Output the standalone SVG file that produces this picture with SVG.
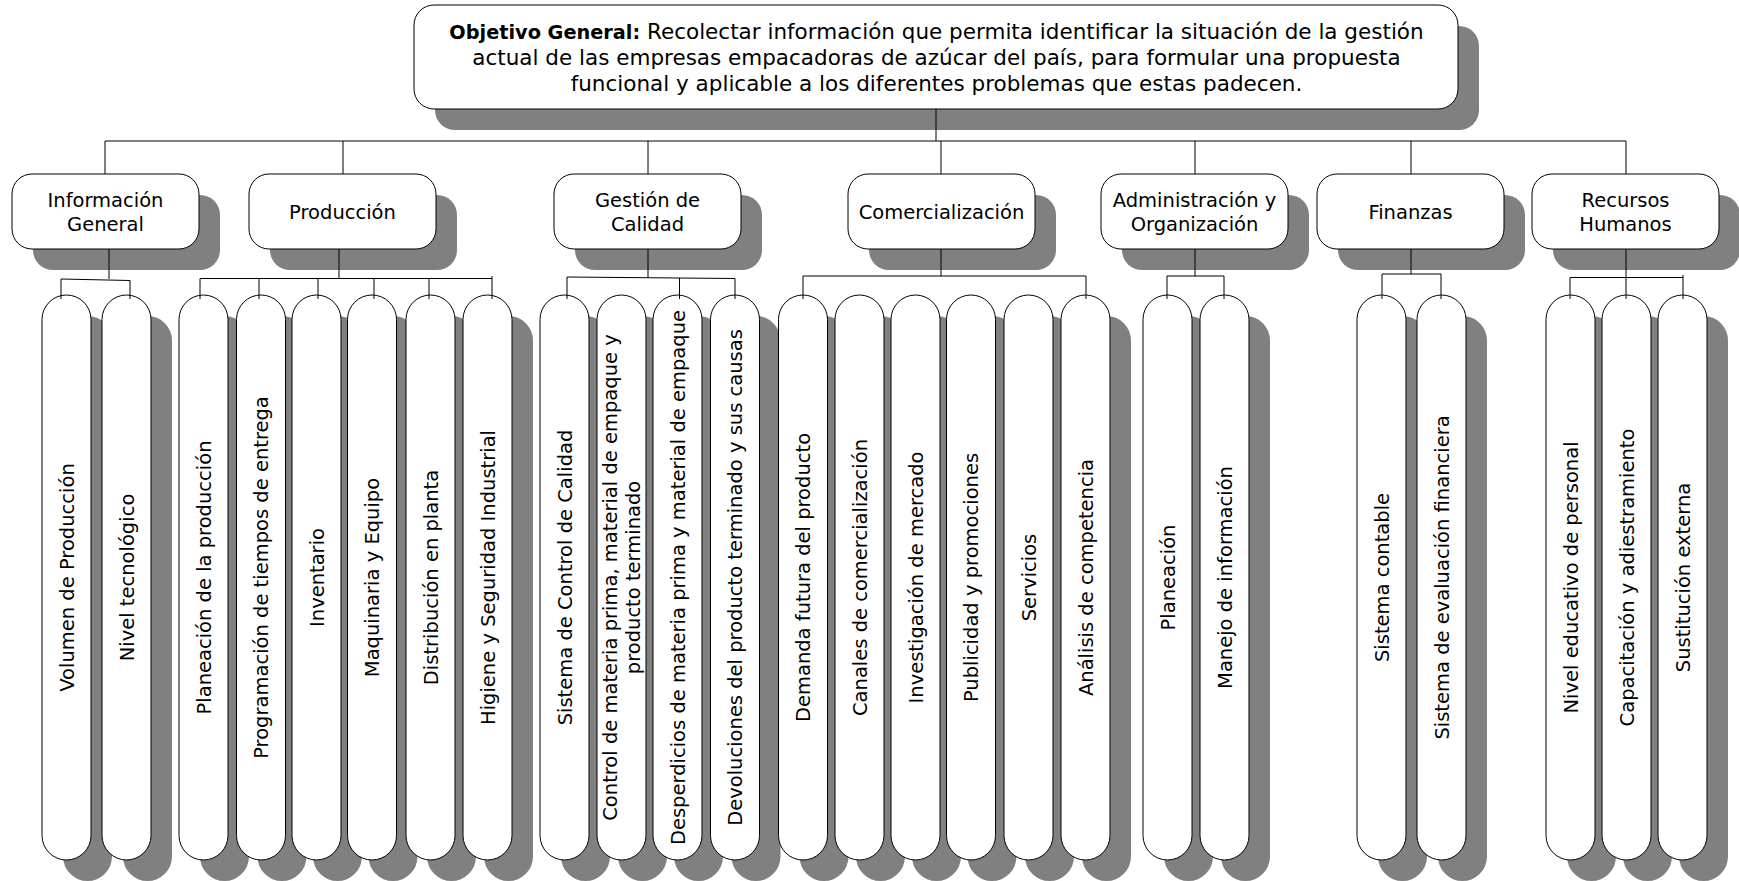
<svg xmlns="http://www.w3.org/2000/svg" width="1739" height="881" viewBox="0 0 1739 881">
  <style>
    .shadow { fill: #808080; }
    .box { fill: #ffffff; stroke: #000000; stroke-width: 1; }
    .lbl { font-family: "DejaVu Sans", "Liberation Sans", sans-serif; font-size: 19.5px; fill: #000000; }
    .big { font-size: 21.5px; }
    .mid { text-anchor: middle; }
    #connectors line { stroke: #000000; stroke-width: 1; fill: none; }
  </style>
  <defs>
    <!-- vertical pill used for every sub-topic -->
    <rect id="pill" x="0" y="0" width="49" height="565" rx="24.5" ry="24.5"/>
  </defs>
  <rect width="1739" height="881" fill="#ffffff"/>

  <!-- root objective -->
  <g id="objetivo">
    <rect class="shadow" x="435" y="26" width="1044" height="104" rx="20"/>
    <rect class="box" x="414" y="5" width="1044" height="104" rx="20"/>
    <text class="lbl big mid" x="936.5" y="38.5"><tspan font-weight="bold" font-size="19.3">Objetivo General:</tspan> Recolectar información que permita identificar la situación de la gestión</text>
    <text class="lbl big mid" x="936.5" y="64.5">actual de las empresas empacadoras de azúcar del país, para formular una propuesta</text>
    <text class="lbl big mid" x="936.5" y="90.5">funcional y aplicable a los diferentes problemas que estas padecen.</text>
  </g>

  <!-- category boxes -->
  <g id="cat-informacion">
    <rect class="shadow" x="33" y="195" width="187" height="75" rx="20"/>
    <rect class="box" x="12" y="174" width="187" height="75" rx="20"/>
    <text class="lbl mid" x="105.5" y="207">Información</text>
    <text class="lbl mid" x="105.5" y="230.5">General</text>
  </g>
  <g id="cat-produccion">
    <rect class="shadow" x="270" y="195" width="187" height="75" rx="20"/>
    <rect class="box" x="249" y="174" width="187" height="75" rx="20"/>
    <text class="lbl mid" x="342.5" y="218.5">Producción</text>
  </g>
  <g id="cat-calidad">
    <rect class="shadow" x="575" y="195" width="187" height="75" rx="20"/>
    <rect class="box" x="554" y="174" width="187" height="75" rx="20"/>
    <text class="lbl mid" x="647.5" y="207">Gestión de</text>
    <text class="lbl mid" x="647.5" y="230.5">Calidad</text>
  </g>
  <g id="cat-comercializacion">
    <rect class="shadow" x="869" y="195" width="187" height="75" rx="20"/>
    <rect class="box" x="848" y="174" width="187" height="75" rx="20"/>
    <text class="lbl mid" x="941.5" y="218.5">Comercialización</text>
  </g>
  <g id="cat-administracion">
    <rect class="shadow" x="1122" y="195" width="187" height="75" rx="20"/>
    <rect class="box" x="1101" y="174" width="187" height="75" rx="20"/>
    <text class="lbl mid" x="1194.5" y="207">Administración y</text>
    <text class="lbl mid" x="1194.5" y="230.5">Organización</text>
  </g>
  <g id="cat-finanzas">
    <rect class="shadow" x="1338" y="195" width="187" height="75" rx="20"/>
    <rect class="box" x="1317" y="174" width="187" height="75" rx="20"/>
    <text class="lbl mid" x="1410.5" y="218.5">Finanzas</text>
  </g>
  <g id="cat-rrhh">
    <rect class="shadow" x="1553" y="195" width="187" height="75" rx="20"/>
    <rect class="box" x="1532" y="174" width="187" height="75" rx="20"/>
    <text class="lbl mid" x="1625.5" y="207">Recursos</text>
    <text class="lbl mid" x="1625.5" y="230.5">Humanos</text>
  </g>

  <!-- sub-topics: pill + shadow, label rotated to read bottom-up -->
  <g id="sub-volumen"><use href="#pill" class="shadow" x="63" y="316"/><use href="#pill" class="box" x="42" y="295"/><text class="lbl mid" transform="translate(66.5,577.5) rotate(-90)" y="7">Volumen de Producción</text></g>
  <g id="sub-nivel-tec"><use href="#pill" class="shadow" x="123" y="316"/><use href="#pill" class="box" x="102" y="295"/><text class="lbl mid" transform="translate(126.5,577.5) rotate(-90)" y="7">Nivel tecnológico</text></g>

  <g id="sub-planeacion-prod"><use href="#pill" class="shadow" x="200" y="316"/><use href="#pill" class="box" x="179" y="295"/><text class="lbl mid" transform="translate(203.5,577.5) rotate(-90)" y="7">Planeación de la producción</text></g>
  <g id="sub-programacion"><use href="#pill" class="shadow" x="257.5" y="316"/><use href="#pill" class="box" x="236.5" y="295"/><text class="lbl mid" transform="translate(261,577.5) rotate(-90)" y="7">Programación de tiempos de entrega</text></g>
  <g id="sub-inventario"><use href="#pill" class="shadow" x="313" y="316"/><use href="#pill" class="box" x="292" y="295"/><text class="lbl mid" transform="translate(316.5,577.5) rotate(-90)" y="7">Inventario</text></g>
  <g id="sub-maquinaria"><use href="#pill" class="shadow" x="368.5" y="316"/><use href="#pill" class="box" x="347.5" y="295"/><text class="lbl mid" transform="translate(372,577.5) rotate(-90)" y="7">Maquinaria y Equipo</text></g>
  <g id="sub-distribucion"><use href="#pill" class="shadow" x="427" y="316"/><use href="#pill" class="box" x="406" y="295"/><text class="lbl mid" transform="translate(430.5,577.5) rotate(-90)" y="7">Distribución en planta</text></g>
  <g id="sub-higiene"><use href="#pill" class="shadow" x="484" y="316"/><use href="#pill" class="box" x="463" y="295"/><text class="lbl mid" transform="translate(487.5,577.5) rotate(-90)" y="7">Higiene y Seguridad Industrial</text></g>

  <g id="sub-sistema-calidad"><use href="#pill" class="shadow" x="561" y="316"/><use href="#pill" class="box" x="540" y="295"/><text class="lbl mid" transform="translate(564.5,577.5) rotate(-90)" y="7">Sistema de Control de Calidad</text></g>
  <g id="sub-control-materia"><use href="#pill" class="shadow" x="618" y="316"/><use href="#pill" class="box" x="597" y="295"/><text class="lbl mid" transform="translate(621.5,577.5) rotate(-90)"><tspan x="0" y="-4.7">Control de materia prima, material de empaque y</tspan><tspan x="0" y="18.3">producto terminado</tspan></text></g>
  <g id="sub-desperdicios"><use href="#pill" class="shadow" x="674" y="316"/><use href="#pill" class="box" x="653" y="295"/><text class="lbl mid" transform="translate(677.5,577.5) rotate(-90)" y="7">Desperdicios de materia prima y material de empaque</text></g>
  <g id="sub-devoluciones"><use href="#pill" class="shadow" x="731.5" y="316"/><use href="#pill" class="box" x="710.5" y="295"/><text class="lbl mid" transform="translate(735,577.5) rotate(-90)" y="7">Devoluciones del producto terminado y sus causas</text></g>

  <g id="sub-demanda"><use href="#pill" class="shadow" x="799.5" y="316"/><use href="#pill" class="box" x="778.5" y="295"/><text class="lbl mid" transform="translate(803,577.5) rotate(-90)" y="7">Demanda futura del producto</text></g>
  <g id="sub-canales"><use href="#pill" class="shadow" x="856" y="316"/><use href="#pill" class="box" x="835" y="295"/><text class="lbl mid" transform="translate(859.5,577.5) rotate(-90)" y="7">Canales de comercialización</text></g>
  <g id="sub-investigacion"><use href="#pill" class="shadow" x="912" y="316"/><use href="#pill" class="box" x="891" y="295"/><text class="lbl mid" transform="translate(915.5,577.5) rotate(-90)" y="7">Investigación de mercado</text></g>
  <g id="sub-publicidad"><use href="#pill" class="shadow" x="967.5" y="316"/><use href="#pill" class="box" x="946.5" y="295"/><text class="lbl mid" transform="translate(971,577.5) rotate(-90)" y="7">Publicidad y promociones</text></g>
  <g id="sub-servicios"><use href="#pill" class="shadow" x="1025" y="316"/><use href="#pill" class="box" x="1004" y="295"/><text class="lbl mid" transform="translate(1028.5,577.5) rotate(-90)" y="7">Servicios</text></g>
  <g id="sub-competencia"><use href="#pill" class="shadow" x="1082" y="316"/><use href="#pill" class="box" x="1061" y="295"/><text class="lbl mid" transform="translate(1085.5,577.5) rotate(-90)" y="7">Análisis de competencia</text></g>

  <g id="sub-planeacion"><use href="#pill" class="shadow" x="1164" y="316"/><use href="#pill" class="box" x="1143" y="295"/><text class="lbl mid" transform="translate(1167.5,577.5) rotate(-90)" y="7">Planeación</text></g>
  <g id="sub-manejo-info"><use href="#pill" class="shadow" x="1221" y="316"/><use href="#pill" class="box" x="1200" y="295"/><text class="lbl mid" transform="translate(1224.5,577.5) rotate(-90)" y="7">Manejo de información</text></g>

  <g id="sub-contable"><use href="#pill" class="shadow" x="1378" y="316"/><use href="#pill" class="box" x="1357" y="295"/><text class="lbl mid" transform="translate(1381.5,577.5) rotate(-90)" y="7">Sistema contable</text></g>
  <g id="sub-evaluacion-fin"><use href="#pill" class="shadow" x="1438" y="316"/><use href="#pill" class="box" x="1417" y="295"/><text class="lbl mid" transform="translate(1441.5,577.5) rotate(-90)" y="7">Sistema de evaluación financiera</text></g>

  <g id="sub-nivel-educativo"><use href="#pill" class="shadow" x="1567" y="316"/><use href="#pill" class="box" x="1546" y="295"/><text class="lbl mid" transform="translate(1570.5,577.5) rotate(-90)" y="7">Nivel educativo de personal</text></g>
  <g id="sub-capacitacion"><use href="#pill" class="shadow" x="1623" y="316"/><use href="#pill" class="box" x="1602" y="295"/><text class="lbl mid" transform="translate(1626.5,577.5) rotate(-90)" y="7">Capacitación y adiestramiento</text></g>
  <g id="sub-sustitucion"><use href="#pill" class="shadow" x="1679" y="316"/><use href="#pill" class="box" x="1658" y="295"/><text class="lbl mid" transform="translate(1682.5,577.5) rotate(-90)" y="7">Sustitución externa</text></g>

  <!-- tree connectors -->
  <g id="connectors">
    <line x1="936" y1="109" x2="936" y2="141"/>
    <line x1="105" y1="141" x2="1626" y2="141"/>
    <line x1="105" y1="141" x2="105" y2="174"/>
    <line x1="343" y1="141" x2="343" y2="174"/>
    <line x1="648" y1="141" x2="648" y2="174"/>
    <line x1="941" y1="141" x2="941" y2="174"/>
    <line x1="1195" y1="141" x2="1195" y2="174"/>
    <line x1="1411" y1="141" x2="1411" y2="174"/>
    <line x1="1626" y1="141" x2="1626" y2="174"/>

    <line x1="109" y1="249" x2="109" y2="279"/>
    <line x1="61" y1="279" x2="130" y2="280.5"/>
    <line x1="61" y1="279" x2="61" y2="299"/>
    <line x1="130" y1="280.5" x2="130" y2="299"/>

    <line x1="339" y1="249" x2="339" y2="278.5"/>
    <line x1="200" y1="278.5" x2="492" y2="278.5"/>
    <line x1="200" y1="278.5" x2="200" y2="299"/>
    <line x1="259" y1="278.5" x2="259" y2="299"/>
    <line x1="318" y1="278.5" x2="318" y2="299"/>
    <line x1="374" y1="278.5" x2="374" y2="299"/>
    <line x1="429" y1="278.5" x2="429" y2="299"/>
    <line x1="492" y1="276" x2="492" y2="299"/>

    <line x1="648" y1="249" x2="648" y2="277.5"/>
    <line x1="567" y1="277" x2="735" y2="278.5"/>
    <line x1="567" y1="277" x2="567" y2="299"/>
    <line x1="679.5" y1="278" x2="679.5" y2="299"/>
    <line x1="735" y1="278.5" x2="735" y2="299"/>

    <line x1="941" y1="249" x2="941" y2="276"/>
    <line x1="803" y1="276" x2="1086" y2="276"/>
    <line x1="803" y1="276" x2="803" y2="299"/>
    <line x1="1086" y1="276" x2="1086" y2="299"/>

    <line x1="1195" y1="249" x2="1195" y2="276"/>
    <line x1="1167" y1="276" x2="1224" y2="276"/>
    <line x1="1167" y1="276" x2="1167" y2="299"/>
    <line x1="1224" y1="276" x2="1224" y2="299"/>

    <line x1="1411" y1="249" x2="1411" y2="274"/>
    <line x1="1382" y1="274" x2="1441" y2="274"/>
    <line x1="1382" y1="274" x2="1382" y2="299"/>
    <line x1="1441" y1="274" x2="1441" y2="299"/>

    <line x1="1626" y1="249" x2="1626" y2="299"/>
    <line x1="1570" y1="277.5" x2="1683" y2="277.5"/>
    <line x1="1570" y1="277.5" x2="1570" y2="299"/>
    <line x1="1683" y1="275" x2="1683" y2="299"/>
  </g>
</svg>
